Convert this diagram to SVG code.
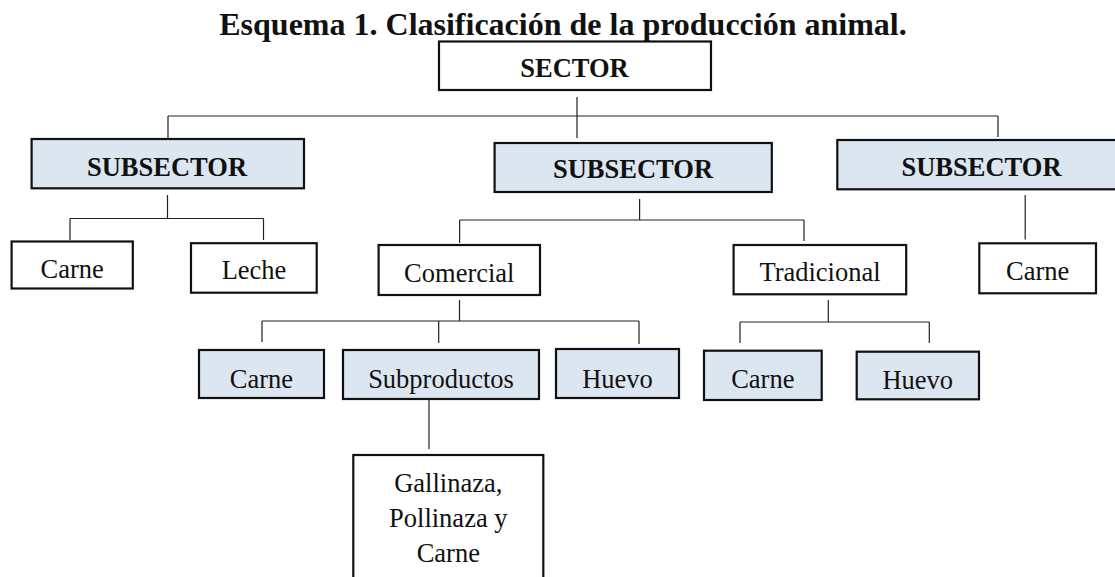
<svg xmlns="http://www.w3.org/2000/svg" width="1115" height="577" viewBox="0 0 1115 577">
<style>
.box{fill:#ffffff;stroke:#111;stroke-width:2.2}
.sub{fill:#dce6f1;stroke:#111;stroke-width:2.2}
.t{font-family:"Liberation Serif","Times New Roman",serif;font-size:26.5px;fill:#111;text-anchor:middle}
.b{font-weight:bold}
.ttl{font-family:"Liberation Serif","Times New Roman",serif;font-size:32px;font-weight:bold;fill:#111;text-anchor:middle}
.ln{stroke:#222;stroke-width:1.2;fill:none}
</style>
<rect width="1115" height="577" fill="#ffffff"/>
<text class="ttl" x="563" y="35">Esquema 1. Clasificación de la producción animal.</text>
<g id="connectors">
<path class="ln" d="M577 97V138 M168 116H998 M168 116V138 M998 116V137"/>
<path class="ln" d="M167.5 195V218.5 M70 218.5H263.5 M70 218.5V240 M263.5 218.5V240"/>
<path class="ln" d="M639.6 199V220 M459.6 220H804 M459.6 220V243 M804 220V241"/>
<path class="ln" d="M1025.2 195V239.5"/>
<path class="ln" d="M459.5 300V321 M262 321H639 M262 321V342 M438.7 321V343 M639 321V344"/>
<path class="ln" d="M828.3 300V322 M740 322H929.3 M740 322V343 M929.3 322V343"/>
<path class="ln" d="M429 399V449"/>
</g>
<g id="sector"><rect class="box" x="439" y="41.5" width="272" height="48.5"/><text class="t b" x="574.5" y="77">SECTOR</text></g>
<g id="subsector1"><rect class="sub" x="31.6" y="139" width="272.4" height="49.3"/><text class="t b" x="167" y="175.5">SUBSECTOR</text></g>
<g id="subsector2"><rect class="sub" x="494.6" y="143" width="277.2" height="49"/><text class="t b" x="633" y="178">SUBSECTOR</text></g>
<g id="subsector3"><rect class="sub" x="837.3" y="140" width="288" height="49.3"/><text class="t b" x="981.5" y="175.5">SUBSECTOR</text></g>
<g id="carne1"><rect class="box" x="11.6" y="241.5" width="121.2" height="47"/><text class="t" x="72.2" y="278">Carne</text></g>
<g id="leche"><rect class="box" x="191" y="243.2" width="125.7" height="49.5"/><text class="t" x="254" y="279">Leche</text></g>
<g id="comercial"><rect class="box" x="378.6" y="245" width="161.4" height="50"/><text class="t" x="459.3" y="281.5">Comercial</text></g>
<g id="tradicional"><rect class="box" x="733.6" y="245" width="172.6" height="49.3"/><text class="t" x="820" y="280.7">Tradicional</text></g>
<g id="carne2"><rect class="box" x="979.3" y="243.3" width="116.7" height="50"/><text class="t" x="1037.7" y="280">Carne</text></g>
<g id="carne3"><rect class="sub" x="199" y="350" width="125" height="48"/><text class="t" x="261.5" y="388">Carne</text></g>
<g id="subproductos"><rect class="sub" x="343" y="350" width="196" height="49"/><text class="t" x="441" y="388">Subproductos</text></g>
<g id="huevo1"><rect class="sub" x="556" y="349" width="123" height="49"/><text class="t" x="617.5" y="387.5">Huevo</text></g>
<g id="carne4"><rect class="sub" x="704" y="350.7" width="117.7" height="49.3"/><text class="t" x="762.8" y="388">Carne</text></g>
<g id="huevo2"><rect class="sub" x="856.7" y="351.7" width="122.3" height="47.6"/><text class="t" x="917.8" y="389">Huevo</text></g>
<g id="gallinaza"><rect class="box" x="353.3" y="455" width="190" height="140"/>
<text class="t" x="448.3" y="491.5">Gallinaza,</text>
<text class="t" x="448.3" y="527">Pollinaza y</text>
<text class="t" x="448.3" y="561.5">Carne</text></g>
</svg>
